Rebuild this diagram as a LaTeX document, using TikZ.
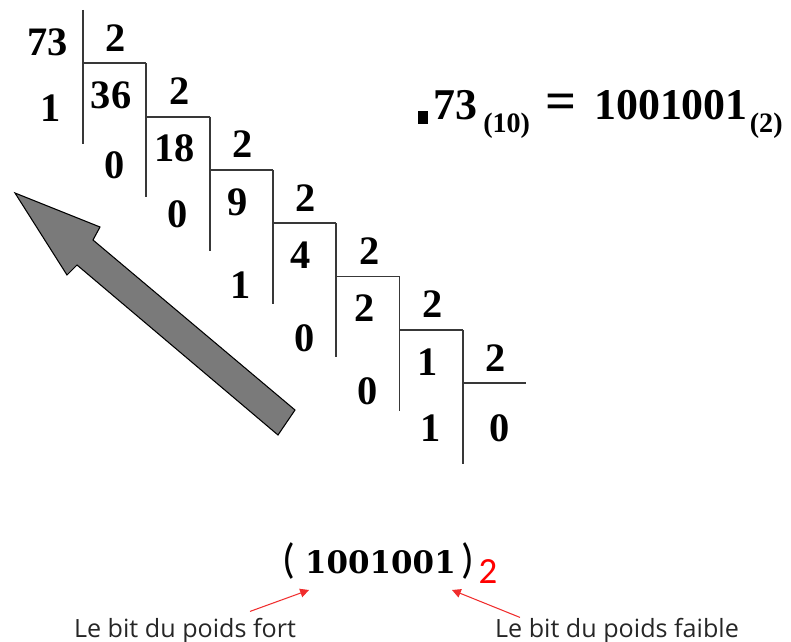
\documentclass[tikz,border=0pt]{standalone}
\usepackage{fontspec}
\setmainfont{Liberation Serif}
\newfontfamily\labelfont{Open Sans}
\newfontfamily\parenfont{Carlito}
\newfontfamily\binfont{DejaVu Serif}
\usetikzlibrary{arrows.meta}
\definecolor{markred}{RGB}{240,45,45}
\tikzset{
  digit/.style={font=\fontsize{23}{23}\selectfont\bfseries, inner sep=0pt},
  bar/.style={line width=1.1pt, black!78},
  bigarrow/.style={fill=black!52, draw=black, line width=0.6pt, line join=miter},
  pointer/.style={markred, line width=0.6pt, -{Triangle[length=5pt,width=5pt]}},
  caption/.style={font=\labelfont\fontsize{14.3}{14.3}\selectfont, text=black!85, inner sep=0pt, anchor=base}
}
\begin{document}
\begin{tikzpicture}[x=0.02cm,y=-0.02cm]
\useasboundingbox (0,0) rectangle (791,642);
% successive divisions by 2
\foreach \k/\num/\rem/\ry in {0/73/1/98, 1/36/0/102, 2/18/0/98, 3/9/1/115, 4/4/0/115, 5/2/0/115, 6/1/1/98} {
  \draw[bar] ({83+63.3*\k},{10+53.3*\k}) -- ({83+63.3*\k},{144+53.3*\k});
  \draw[bar] ({83+63.3*\k},{63.3+53.3*\k}) -- ({146.3+63.3*\k},{63.3+53.3*\k});
  \node[digit] (num\k) at ({47.7+63.3*\k},{42+53.3*\k}) {\num};
  \node[digit] (div\k) at ({116+63.3*\k},{38+53.3*\k}) {2};
  \node[digit] (rem\k) at ({51+63.3*\k},{10+\ry+53.3*\k}) {\rem};
}
\node[digit] (num7) at (500,428) {0};
% reading direction
\draw[bigarrow] (15,193) -- (100,227) -- (93,240) -- (295,410) -- (278,435) -- (77,265) -- (67,275) -- cycle;
% result
\node[anchor=base west, inner sep=0pt, font=\fontsize{25}{25}\selectfont\bfseries] (eq) at (418,120)
  {\rule[-2pt]{0.2cm}{0.26cm}\hspace{0.1cm}73\hspace{0.12cm}\raisebox{-0.26cm}{\fontsize{16}{16}\selectfont(10)}\hspace{0.3cm}{\fontsize{31}{31}\selectfont=}\hspace{0.36cm}1001001\hspace{0.04cm}\raisebox{-0.26cm}{\fontsize{16}{16}\selectfont(2)}};
\node[anchor=base west, inner sep=0pt] (bin) at (282,573)
  {{\parenfont\fontsize{24}{24}\selectfont(}\hspace{0.2cm}{\binfont\bfseries\fontsize{17.6}{17.6}\selectfont 1001001}\hspace{0.12cm}{\parenfont\fontsize{24}{24}\selectfont)}\hspace{0.08cm}\raisebox{-0.2cm}{\parenfont\fontsize{21}{21}\selectfont\color{red}2}};
\node[caption] (fort) at (185,637) {Le bit du poids fort};
\node[caption] (faible) at (617,637) {Le bit du poids faible};
\coordinate (msb) at (309,590);
\coordinate (lsb) at (452,590);
\draw[pointer] (fort.north) ++(65,-6) -- (msb);
\draw[pointer] (faible.north) ++(-97,0) -- (lsb);
\end{tikzpicture}
\end{document}
